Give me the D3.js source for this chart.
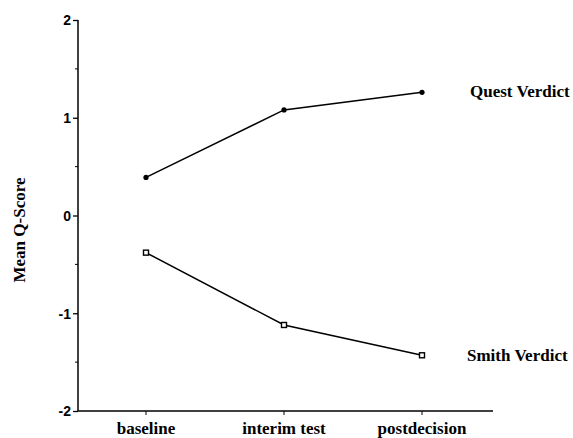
<!DOCTYPE html>
<html lang="en">
<head>
<meta charset="UTF-8">
<script src="https://d3js.org/d3.v7.min.js"></script>
<title>Mean Q-Score</title>
<style>
  body { margin: 0; background: #fff; }
  .cat { font-family: "Liberation Serif", serif; font-weight: bold; font-size: 17px; }
  .tick text { font-family: "Liberation Sans", Arial, sans-serif; font-weight: bold; font-size: 14px; }
</style>
</head>
<body>
<svg></svg>
<script>
  const phases = ['baseline', 'interim test', 'postdecision'];
  const quest = [0.39, 1.08, 1.26];
  const smith = [-0.38, -1.12, -1.43];
  const yTicks = [-2, -1, 0, 1, 2];

  const svg = d3.select('svg').attr('width', 573).attr('height', 438);

  const x = d3.scalePoint().domain(phases).range([146, 422]);
  const y = d3.scaleLinear().domain([-2, 2]).range([411, 20]);
  const x0 = 78, x1 = 493;

  // y axis
  const yAxis = d3.axisLeft(y).tickValues(yTicks).tickSize(5).tickFormat(d => String(d));
  const ga = svg.append('g').attr('transform', `translate(${x0},0)`).call(yAxis);
  ga.select('.domain').attr('stroke-width', 1.5).attr('d', `M-0,${y(2)}V${y(-2)}`);
  ga.selectAll('.tick line').attr('stroke-width', 1.3);
  ga.selectAll('.tick text').attr('x', -7).attr('dy', '0.35em');

  // minor y ticks
  svg.append('g').selectAll('line').data([-1.5, -0.5, 0.5, 1.5]).join('line')
    .attr('x1', x0 - 3).attr('x2', x0).attr('y1', d => y(d)).attr('y2', d => y(d))
    .attr('stroke', '#000');

  // x axis
  svg.append('line').attr('x1', x0).attr('x2', x1).attr('y1', y(-2)).attr('y2', y(-2))
    .attr('stroke', '#000').attr('stroke-width', 1.5);
  svg.append('g').selectAll('line').data(phases).join('line')
    .attr('x1', d => x(d)).attr('x2', d => x(d)).attr('y1', y(-2)).attr('y2', y(-2) + 4)
    .attr('stroke', '#000');
  svg.append('g').selectAll('text').data(phases).join('text')
    .attr('class', 'cat').attr('x', d => x(d)).attr('y', 434).attr('text-anchor', 'middle')
    .text(d => d);

  // y label
  svg.append('text').attr('class', 'cat')
    .attr('transform', `translate(25,230) rotate(-90)`).attr('text-anchor', 'middle')
    .text('Mean Q-Score');

  const line = d3.line().x((d, i) => x(phases[i])).y(d => y(d));

  svg.append('path').datum(quest).attr('d', line).attr('fill', 'none')
    .attr('stroke', '#000').attr('stroke-width', 1.5);
  svg.append('path').datum(smith).attr('d', line).attr('fill', 'none')
    .attr('stroke', '#000').attr('stroke-width', 1.5);

  svg.append('g').selectAll('circle').data(quest).join('circle')
    .attr('cx', (d, i) => x(phases[i])).attr('cy', d => y(d)).attr('r', 2.6).attr('fill', '#000');
  svg.append('g').selectAll('rect').data(smith).join('rect')
    .attr('x', (d, i) => x(phases[i]) - 2.5).attr('y', d => y(d) - 2.5)
    .attr('width', 5).attr('height', 5).attr('fill', '#fff').attr('stroke', '#000').attr('stroke-width', 1.4);

  // series labels
  svg.append('text').attr('class', 'cat').attr('x', 470).attr('y', y(quest[2]) + 5).text('Quest Verdict');
  svg.append('text').attr('class', 'cat').attr('x', 467).attr('y', y(smith[2]) + 6).text('Smith Verdict');
</script>
</body>
</html>
